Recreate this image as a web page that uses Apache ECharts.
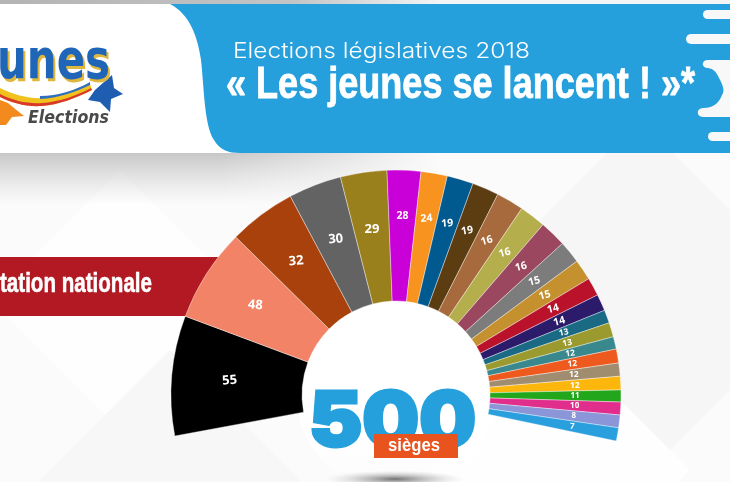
<!DOCTYPE html>
<html>
<head>
<meta charset="utf-8">
<title>Elections législatives 2018</title>
<script src="https://cdn.jsdelivr.net/npm/echarts@6/dist/echarts.min.js"></script>
<style>
html, body { margin: 0; padding: 0; background: #fff; }
#main { width: 730px; height: 482px; }
</style>
</head>
<body>
<div id="main"></div>
<script>
// seats per list, left to right (they add up to 500)
var seats = [55, 48, 32, 30, 29, 28, 24, 19, 19, 16, 16, 16, 15, 15, 14, 14, 13, 13, 12, 12, 12, 12, 11, 10, 8, 7];
// the slices of the picture are not proportional to the seats: arc of each slice
var arcRead = [31, 24.1, 17.4, 13.7, 12, 8.7, 6.8, 6.8, 6.9, 7.1, 6.8, 6.9, 5.8, 5.4, 4.7, 4.3, 3.4, 3.7, 3.2, 3.6, 3.4, 3.5, 3.1, 3.3, 3.3, 3.4];
var titleTop = 'Elections législatives 2018';
var titleMain = '« Les jeunes se lancent ! »*';
var bannerText = 'tation nationale';
var logoTop = 'unes';
var logoBottom = 'Elections';
var totalText = '500';
var totalUnit = 'sièges';

var sliceColors = ['#000000', '#f28366', '#a9410d', '#636363', '#9a7f1d', '#c900d8', '#f7931e', '#00598f',
    '#5c3d12', '#a66a3d', '#b5ae4d', '#9c4760', '#7c7c7c', '#c5912f', '#b9122a', '#2c1a6b',
    '#1a6a85', '#9a9a2e', '#38888e', '#ee5a1e', '#a08c6e', '#fdb60b', '#22a61c', '#e12e8c', '#8b96d8', '#2a9fde'];
var labelTilt = [5, -5, 5, 5, 0, 0, 5, 5, 10, 15, 15, 15, 15, 15, 15, 15, 12, 12, 8, 5, 0, 0, 0, 0, 0, -5];

var BLUE = '#25a0dc';
var PALE = '#f8f8f8';
var SANS_BOLD = 'bold {s}px "Liberation Sans", sans-serif';

function labelSize(v) {
    if (v >= 29) return 13;
    if (v >= 14) return 10.5;
    if (v >= 12) return 8.5;
    return 8;
}

var chart = echarts.init(document.getElementById('main'));

// squeeze or stretch a text so that it takes the width it has in the picture
var measureCtx = document.createElement('canvas').getContext('2d');
function fitted(text, font, x, y, width, fill, extra) {
    measureCtx.font = font;
    var el = {
        type: 'text', silent: true, x: x, y: y,
        scaleX: width / measureCtx.measureText(text).width,
        style: { text: text, font: font, fill: fill, align: 'left', verticalAlign: 'middle' }
    };
    if (extra) {
        if (extra.z) el.z = extra.z;
        if (extra.lineWidth) {
            el.style.stroke = fill;
            el.style.lineWidth = extra.lineWidth;
        }
    }
    return el;
}

function diamond(cx, cy, r, fill) {
    return {
        type: 'polygon', silent: true,
        shape: { points: [[cx, cy - r], [cx + r, cy], [cx, cy + r], [cx - r, cy]] },
        style: { fill: fill }
    };
}

function drip(x, y, h) {
    return {
        type: 'rect', silent: true,
        shape: { x: x, y: y, width: 740 - x, height: h, r: h / 2 },
        style: { fill: PALE }
    };
}

// graphic has no path element, so every outline gets registered as a shape
var pathCount = 0;
function outline(d, fill) {
    var name = 'outline' + (pathCount++);
    echarts.graphic.registerShape(name, echarts.graphic.extendPath(d, {}));
    return { type: name, silent: true, style: { fill: fill } };
}

var backdrop = [
    { type: 'rect', silent: true, shape: { x: 0, y: 0, width: 730, height: 482 }, style: { fill: '#fbfbfb' } },
    diamond(120, 300, 130, '#fefefe'),
    diamond(640, 300, 180, '#f6f6f6'),
    diamond(560, 470, 130, '#fefefe'),
    diamond(170, 480, 130, '#f7f7f7'),
    // shadow under the header
    {
        type: 'rect', silent: true,
        shape: { x: 0, y: 150, width: 440, height: 55 },
        style: {
            fill: new echarts.graphic.LinearGradient(0, 0, 0, 1, [
                { offset: 0, color: 'rgba(170,170,170,0.7)' },
                { offset: 1, color: 'rgba(200,200,200,0)' }
            ])
        }
    },
    {
        type: 'rect', silent: true,
        shape: { x: 220, y: 150, width: 220, height: 55 },
        style: {
            fill: new echarts.graphic.LinearGradient(0, 0, 1, 0, [
                { offset: 0, color: 'rgba(251,251,251,0)' },
                { offset: 1, color: 'rgba(251,251,251,1)' }
            ])
        }
    },
    // top strip
    {
        type: 'rect', silent: true,
        shape: { x: 0, y: 0, width: 730, height: 4 },
        style: {
            fill: new echarts.graphic.LinearGradient(0, 0, 1, 0, [
                { offset: 0, color: '#b4b4b4' },
                { offset: 0.4, color: '#c4c4c4' },
                { offset: 0.6, color: '#f4f4f4' },
                { offset: 1, color: '#f4f4f4' }
            ])
        }
    },
    // header
    { type: 'rect', silent: true, shape: { x: 0, y: 4, width: 250, height: 149 }, style: { fill: '#ffffff' } },
    outline('M170 4 C190 14 198 38 201 60 C204 85 204 125 214 140 C220 150 228 153 240 153 L730 153 L730 4 Z', BLUE),
    drip(703, 10, 9),
    drip(686, 34, 10),
    drip(708, 132, 9),
    outline('M708 60 C701 60 701 68 708 68 C714 69 716 72 718 76 C721 82 726 90 722 95 C720 100 716 108 703 108 C696 108 696 117 703 117 L730 117 L730 60 Z', PALE),
    // logo
    outline('M0 88 C14 95 30 99 43 98 C60 97 76 91 90 84 L92 90 C76 98 58 105 42 106 C26 107 12 103 0 97 Z', '#f2c21c'),
    outline('M0 94 C14 101 28 104 42 103 C58 102 76 96 91 88 L92 90 C76 98 58 105 42 106 C26 107 12 103 0 97 Z', '#d8392b'),
    outline('M40 96 C58 96 76 90 90 82 L90 85 C76 92 58 98 40 99 Z', '#2f6fc0'),
    outline('M112 75 L114 88 L123 94 L111 99 L110 112 L100 102 L88 100 L95 90 Z', '#1e5db0'),
    outline('M0 100 L8 103 L14 108 L24 116 L12 117 L6 125 L0 125 Z', '#f28a1e'),
    fitted(logoTop, 'bold 56px "DejaVu Sans", sans-serif', -1, 66, 113, '#dfb73c'),
    fitted(logoTop, 'bold 56px "DejaVu Sans", sans-serif', -3, 63, 113, '#1f66b8'),
    fitted(logoBottom, 'italic bold 18px "DejaVu Sans", sans-serif', 28, 118, 81, '#4a4a4a'),
    // titles
    fitted(titleTop, '300 22px Inter, "Open Sans", sans-serif', 233, 51, 297, '#ffffff'),
    fitted(titleMain, SANS_BOLD.replace('{s}', 45), 226, 86, 469, '#ffffff', { lineWidth: 0.8 }),
    // banner
    { type: 'rect', silent: true, shape: { x: 0, y: 257, width: 222, height: 59 }, style: { fill: '#b31923' } },
    fitted(bannerText, SANS_BOLD.replace('{s}', 27), 0, 285, 152, '#ffffff', { lineWidth: 0.6 }),
    // hub and the shadow under it
    {
        type: 'circle', silent: true,
        shape: { cx: 396, cy: 395, r: 99 },
        style: {
            fill: new echarts.graphic.LinearGradient(0, 0, 0, 1, [
                { offset: 0, color: '#ffffff' },
                { offset: 0.7, color: '#ffffff' },
                { offset: 1, color: 'rgba(255,255,255,0)' }
            ])
        }
    },
    {
        type: 'circle', silent: true, x: 395, y: 479, scaleY: 0.12,
        shape: { cx: 0, cy: 0, r: 70 },
        style: {
            fill: new echarts.graphic.RadialGradient(0.5, 0.5, 0.5, [
                { offset: 0, color: 'rgba(90,90,90,0.85)' },
                { offset: 1, color: 'rgba(200,200,200,0)' }
            ])
        }
    }
];

var foreground = [
    fitted(totalText, '900 76px Inter, "DejaVu Sans", sans-serif', 309, 423, 167, BLUE, { z: 50, lineWidth: 3 }),
    { type: 'rect', silent: true, z: 60, shape: { x: 374, y: 434, width: 84, height: 24 }, style: { fill: '#e9531d' } },
    fitted(totalUnit, SANS_BOLD.replace('{s}', 19), 388, 446, 52, '#ffffff', { z: 61 })
];

// transparent pie over the ring that only holds the seat numbers of one group of slices
function numbersPie(innerRadius, showIt) {
    var items = [];
    for (var i = 0; i < seats.length; i++) {
        items.push({
            name: String(seats[i]),
            value: arcRead[i],
            label: {
                show: showIt(i),
                rotate: labelTilt[i],
                fontSize: labelSize(seats[i])
            }
        });
    }
    return {
        type: 'pie',
        silent: true,
        center: [396, 395],
        radius: [innerRadius, 225],
        startAngle: 190.5,
        endAngle: -11.8,
        sort: null,
        itemStyle: { color: 'rgba(0,0,0,0)' },
        label: {
            position: 'inside',
            formatter: '{b}',
            color: '#ffffff',
            fontWeight: 'bold',
            fontFamily: '"Open Sans", sans-serif'
        },
        labelLine: { show: false },
        data: items
    };
}

var pieData = [];
for (var i = 0; i < seats.length; i++) {
    pieData.push({ name: 'l' + i, value: arcRead[i], itemStyle: { color: sliceColors[i] } });
}

chart.setOption({
    animation: false,
    backgroundColor: '#fbfbfb',
    graphic: { elements: backdrop.concat(foreground) },
    series: [{
        type: 'pie',
        silent: true,
        center: [396, 395],
        radius: [94, 225],
        startAngle: 190.5,
        endAngle: -11.8,
        sort: null,
        label: { show: false },
        labelLine: { show: false },
        itemStyle: { borderColor: 'rgba(255,255,255,0.55)', borderWidth: 0.7 },
        data: pieData
    },
    numbersPie(103, function (i) { return i < 5; }),
    numbersPie(127, function (i) { return i >= 5; })]
});
</script>
</body>
</html>
